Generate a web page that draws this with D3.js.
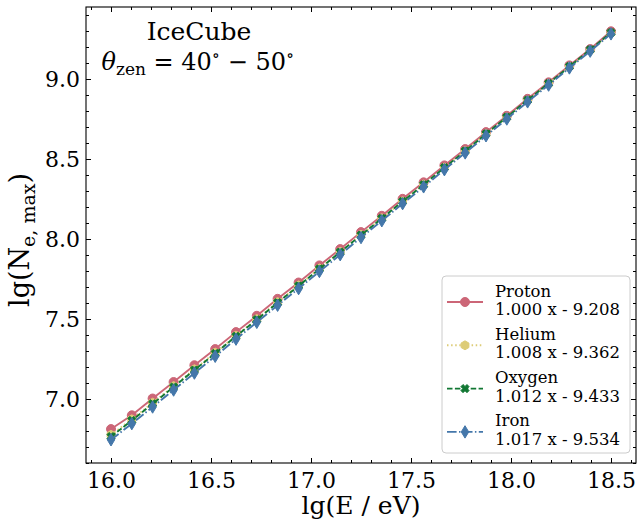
<!DOCTYPE html>
<html>
<head>
<meta charset="utf-8">
<script src="https://cdn.jsdelivr.net/npm/d3@7"></script>
<style>
  html, body { margin: 0; padding: 0; background: #fff; }
  svg { display: block; font-family: "DejaVu Serif", serif; }
</style>
</head>
<body>
<svg id="chart" width="640" height="522"></svg>
<script>
// Energy bins, lg(E / eV)
const energies = [16.000, 16.104, 16.208, 16.313, 16.417, 16.521, 16.625, 16.729, 16.833,
  16.938, 17.042, 17.146, 17.250, 17.354, 17.458, 17.563, 17.667, 17.771, 17.875,
  17.979, 18.083, 18.188, 18.292, 18.396, 18.500];

// Mean lg(N_e,max) per primary
const proton = [6.812, 6.898, 7.003, 7.106, 7.211, 7.312, 7.418, 7.520, 7.626, 7.728,
  7.835, 7.937, 8.043, 8.145, 8.251, 8.354, 8.460, 8.562, 8.668, 8.770, 8.876, 8.979,
  9.085, 9.187, 9.298];
const helium = [6.776, 6.873, 6.977, 7.081, 7.186, 7.290, 7.396, 7.500, 7.606, 7.710,
  7.816, 7.920, 8.026, 8.130, 8.236, 8.340, 8.446, 8.550, 8.656, 8.760, 8.866, 8.970,
  9.076, 9.180, 9.288];
const oxygen = [6.765, 6.866, 6.970, 7.075, 7.181, 7.285, 7.392, 7.496, 7.602, 7.707,
  7.813, 7.918, 8.024, 8.129, 8.235, 8.339, 8.446, 8.550, 8.657, 8.761, 8.868, 8.972,
  9.078, 9.183, 9.290];
const iron = [6.745, 6.846, 6.950, 7.056, 7.162, 7.267, 7.374, 7.479, 7.586, 7.690,
  7.797, 7.902, 8.009, 8.114, 8.221, 8.326, 8.433, 8.538, 8.645, 8.750, 8.857, 8.962,
  9.069, 9.174, 9.282];

const seriesNames = ["Proton", "Helium", "Oxygen", "Iron"];
const fitLabels = ["1.000 x - 9.208", "1.008 x - 9.362", "1.012 x - 9.433", "1.017 x - 9.534"];

const xMajorTicks = [16.0, 16.5, 17.0, 17.5, 18.0, 18.5];
const yMajorTicks = [7.0, 7.5, 8.0, 8.5, 9.0];
const xMinorTicks = d3.range(159, 187).map(v => v / 10);
const yMinorTicks = d3.range(66, 95).map(v => v / 10);

const xDomain = [15.875, 18.625];
const yDomain = [6.6, 9.45];

// Plot frame
const frame = { left: 86, right: 636, top: 7, bottom: 463 };

const svg = d3.select("#chart");
const x = d3.scaleLinear().domain(xDomain).range([frame.left, frame.right]);
const y = d3.scaleLinear().domain(yDomain).range([frame.bottom, frame.top]);

const styles = [
  { color: "#CC6677", dash: null, marker: "circle" },
  { color: "#DDCC77", dash: "1.5,2.6", marker: "hexagon" },
  { color: "#117733", dash: "5.5,2.4", marker: "x" },
  { color: "#4477AA", dash: "9.6,2.4,1.5,2.4", marker: "thin_diamond" }
];
const seriesValues = [proton, helium, oxygen, iron];

// Marker path generators (centered at origin)
function markerPath(kind, s) {
  const r = s / 2;
  if (kind === "circle") {
    const p = d3.path();
    p.arc(0, 0, r, 0, 2 * Math.PI);
    p.closePath();
    return p.toString();
  }
  if (kind === "hexagon") {
    const pts = d3.range(6).map(i => {
      const a = -Math.PI / 2 + i * Math.PI / 3;
      return [r * Math.cos(a), r * Math.sin(a)];
    });
    return "M" + pts.map(p => p.join(",")).join("L") + "Z";
  }
  if (kind === "x") {
    // filled X: plus shape rotated 45 degrees
    const a = r * 0.95, b = r * 0.33;
    const plus = [[-b, -a], [b, -a], [b, -b], [a, -b], [a, b], [b, b], [b, a], [-b, a], [-b, b], [-a, b], [-a, -b], [-b, -b]];
    const c = Math.SQRT1_2;
    const rot = plus.map(([px, py]) => [(px - py) * c, (px + py) * c]);
    return "M" + rot.map(p => p.join(",")).join("L") + "Z";
  }
  if (kind === "thin_diamond") {
    const h = s * 0.69, w = h * 0.6;
    return `M0,${-h}L${w},0L0,${h}L${-w},0Z`;
  }
  return "";
}

svg.append("defs").append("clipPath").attr("id", "plotclip")
  .append("rect").attr("x", frame.left).attr("y", frame.top)
  .attr("width", frame.right - frame.left).attr("height", frame.bottom - frame.top);

const plot = svg.append("g");
const line = d3.line().x(d => x(d[0])).y(d => y(d[1]));
const markerSize = 9;

seriesValues.forEach((vals, i) => {
  const st = styles[i];
  const pts = energies.map((e, k) => [e, vals[k]]);
  const g = plot.append("g").attr("clip-path", "url(#plotclip)");
  g.append("path")
    .attr("d", line(pts))
    .attr("fill", "none")
    .attr("stroke", st.color)
    .attr("stroke-width", 1.9)
    .attr("stroke-dasharray", st.dash);
  g.selectAll("path.m").data(pts).enter().append("path")
    .attr("class", "m")
    .attr("d", markerPath(st.marker, markerSize))
    .attr("transform", d => `translate(${x(d[0])},${y(d[1])})`)
    .attr("fill", st.color)
    .attr("stroke", st.color)
    .attr("stroke-width", 1);
});

// Axes: ticks pointing inward on all four sides
function styleAxis(g) {
  g.select(".domain").remove();
  g.selectAll(".tick line").attr("stroke", "#000").attr("stroke-width", 1);
}
const tickFont = 22;

svg.append("g").attr("transform", `translate(0,${frame.bottom})`)
  .call(d3.axisBottom(x).tickValues(xMinorTicks).tickSize(-3).tickFormat(""))
  .call(styleAxis);
svg.append("g").attr("transform", `translate(0,${frame.bottom})`)
  .call(d3.axisBottom(x).tickValues(xMajorTicks).tickSize(-5).tickPadding(9).tickFormat(d3.format(".1f")))
  .call(styleAxis)
  .selectAll("text").attr("font-size", tickFont).attr("font-family", "DejaVu Serif").attr("fill", "#000");

svg.append("g").attr("transform", `translate(0,${frame.top})`)
  .call(d3.axisTop(x).tickValues(xMinorTicks).tickSize(-3).tickFormat(""))
  .call(styleAxis);
svg.append("g").attr("transform", `translate(0,${frame.top})`)
  .call(d3.axisTop(x).tickValues(xMajorTicks).tickSize(-5).tickFormat(""))
  .call(styleAxis);

svg.append("g").attr("transform", `translate(${frame.left},0)`)
  .call(d3.axisLeft(y).tickValues(yMinorTicks).tickSize(-3).tickFormat(""))
  .call(styleAxis);
svg.append("g").attr("transform", `translate(${frame.left},0)`)
  .call(d3.axisLeft(y).tickValues(yMajorTicks).tickSize(-5).tickPadding(6).tickFormat(d3.format(".1f")))
  .call(styleAxis)
  .selectAll("text").attr("font-size", tickFont).attr("font-family", "DejaVu Serif").attr("fill", "#000");

svg.append("g").attr("transform", `translate(${frame.right},0)`)
  .call(d3.axisRight(y).tickValues(yMinorTicks).tickSize(-3).tickFormat(""))
  .call(styleAxis);
svg.append("g").attr("transform", `translate(${frame.right},0)`)
  .call(d3.axisRight(y).tickValues(yMajorTicks).tickSize(-5).tickFormat(""))
  .call(styleAxis);

// Frame
svg.append("rect")
  .attr("x", frame.left).attr("y", frame.top)
  .attr("width", frame.right - frame.left).attr("height", frame.bottom - frame.top)
  .attr("fill", "none").attr("stroke", "#000").attr("stroke-width", 1.1);

// Axis labels
svg.append("text")
  .attr("x", 361).attr("y", 514)
  .attr("text-anchor", "middle").attr("font-size", 25)
  .text("lg(E / eV)");

const yl = svg.append("text")
  .attr("transform", "translate(29,240) rotate(-90)")
  .attr("text-anchor", "middle").attr("font-size", 27);
yl.append("tspan").text("lg(N");
yl.append("tspan").attr("font-size", 19).attr("dy", 6).text("e, max");
yl.append("tspan").attr("dy", -6).text(")");

// Annotation
svg.append("text")
  .attr("x", 199).attr("y", 40)
  .attr("text-anchor", "middle").attr("font-size", 25)
  .text("IceCube");
const th = svg.append("text")
  .attr("x", 198).attr("y", 70)
  .attr("text-anchor", "middle").attr("font-size", 24);
th.append("tspan").attr("font-style", "italic").text("θ");
th.append("tspan").attr("font-size", 17).attr("dy", 5).text("zen");
th.append("tspan").attr("dy", -5).text(" = 40");
th.append("tspan").attr("font-size", 17).attr("dy", -9).text("∘");
th.append("tspan").attr("dy", 9).text(" − 50");
th.append("tspan").attr("font-size", 17).attr("dy", -9).text("∘");

// Legend
const lg = svg.append("g");
lg.append("rect")
  .attr("x", 442).attr("y", 276).attr("width", 188).attr("height", 177)
  .attr("rx", 4).attr("ry", 4)
  .attr("fill", "#fff").attr("fill-opacity", 0.8)
  .attr("stroke", "#cccccc").attr("stroke-width", 1);

const entryStep = 43.3;
seriesNames.forEach((name, i) => {
  const st = styles[i];
  const cy = 302 + i * entryStep;
  lg.append("line")
    .attr("x1", 447).attr("x2", 483).attr("y1", cy).attr("y2", cy)
    .attr("stroke", st.color).attr("stroke-width", 1.9)
    .attr("stroke-dasharray", st.dash);
  lg.append("path")
    .attr("d", markerPath(st.marker, markerSize))
    .attr("transform", `translate(465,${cy})`)
    .attr("fill", st.color).attr("stroke", st.color).attr("stroke-width", 1);
  const t = lg.append("text").attr("font-size", 16.5);
  t.append("tspan").attr("x", 495).attr("y", cy - 5.5).text(name);
  t.append("tspan").attr("x", 495).attr("y", cy + 13).text(fitLabels[i]);
});
</script>
</body>
</html>
